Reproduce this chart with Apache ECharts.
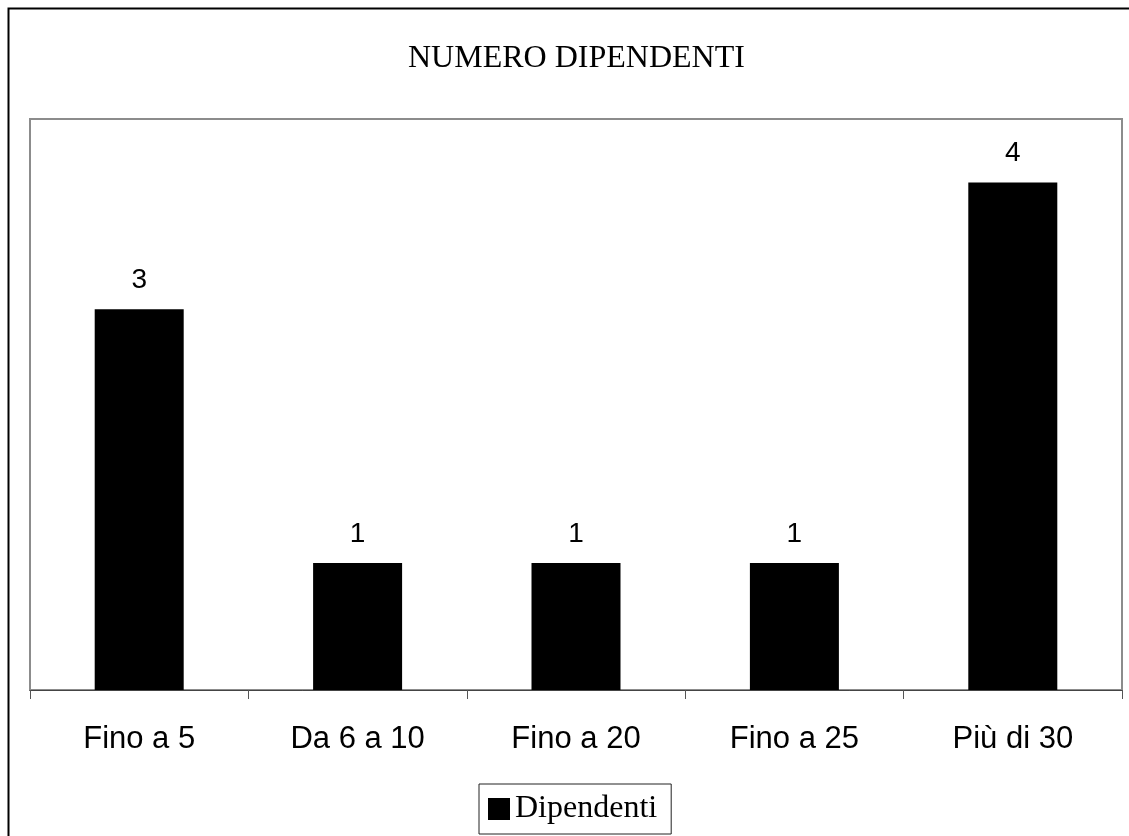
<!DOCTYPE html>
<html>
<head>
<meta charset="utf-8">
<script src="https://cdn.jsdelivr.net/npm/echarts@6/dist/echarts.min.js"></script>
<style>
  html, body { margin: 0; padding: 0; background: #fff; }
  #chart { width: 1129px; height: 836px; }
</style>
</head>
<body>
<div id="chart"></div>
<script>
var categories = ['Fino a 5', 'Da 6 a 10', 'Fino a 20', 'Fino a 25', 'Più di 30'];
var dipendenti = [3, 1, 1, 1, 4];

var box = echarts.init(document.getElementById('chart'));

var option = {
    backgroundColor: '#fff',
    animation: false,
    title: {
        text: 'NUMERO DIPENDENTI',
        left: 403,
        top: 38,
        textStyle: {
            fontFamily: 'Liberation Serif',
            fontSize: 32,
            fontWeight: 'normal',
            color: '#000'
        }
    },
    graphic: [
        {
            type: 'rect',
            shape: { x: 8.5, y: 8.5, width: 1200, height: 1000 },
            style: { fill: 'none', stroke: '#000', lineWidth: 2 },
            silent: true
        }
    ],
    legend: {
        data: ['Dipendenti'],
        left: 479,
        top: 784,
        icon: 'rect',
        itemWidth: 22,
        itemHeight: 22,
        itemGap: 6,
        padding: [9, 14, 9, 9],
        borderColor: '#222',
        borderWidth: 1,
        textStyle: {
            fontFamily: 'Liberation Serif',
            fontSize: 32,
            color: '#000'
        }
    },
    grid: {
        left: 30,
        right: 7,
        top: 119,
        bottom: 146,
        show: true,
        borderColor: '#8c8c8c',
        borderWidth: 2,
        backgroundColor: '#fff'
    },
    xAxis: {
        type: 'category',
        data: categories,
        axisLine: { show: true, lineStyle: { color: '#444', width: 1 } },
        axisTick: { show: true, length: 9, alignWithLabel: false, lineStyle: { color: '#555', width: 1 } },
        axisLabel: {
            margin: 34,
            fontFamily: 'Liberation Sans',
            fontSize: 31,
            color: '#000'
        }
    },
    yAxis: {
        type: 'value',
        min: 0,
        max: 4.5,
        show: false,
        splitLine: { show: false }
    },
    series: [
        {
            name: 'Dipendenti',
            type: 'bar',
            barWidth: 89,
            color: '#000',
            label: {
                show: true,
                position: 'top',
                distance: 15,
                fontFamily: 'Liberation Sans',
                fontSize: 28,
                color: '#000'
            },
            data: dipendenti
        }
    ]
};
box.setOption(option);
</script>
</body>
</html>
